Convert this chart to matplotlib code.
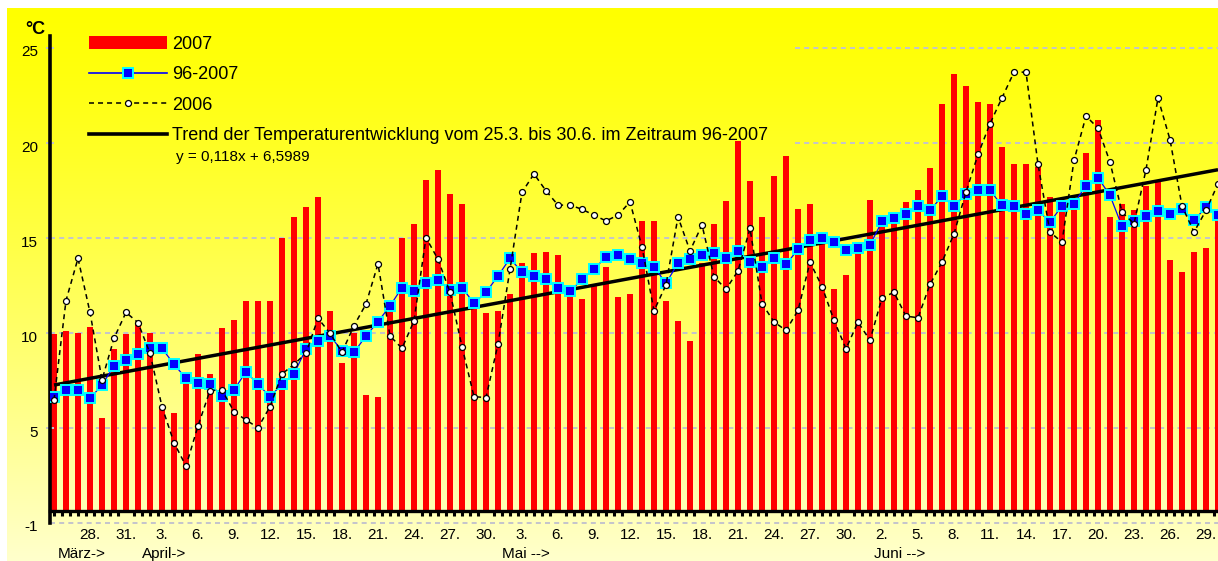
import numpy as np
import matplotlib
matplotlib.use('Agg')
import matplotlib.pyplot as plt
from matplotlib.lines import Line2D
from matplotlib.patches import Patch
from matplotlib.transforms import blended_transform_factory, ScaledTranslation

plt.rcParams['font.family'] = ['Liberation Sans', 'DejaVu Sans']
plt.rcParams['lines.scale_dashes'] = False

# ---------------- data (25.3. - 30.6.) ----------------
bars_2007 = [9.95, 10.14, 10.03, 10.35, 5.53, 9.18, 9.95, 10.49, 10.03, 6.14,
             5.83, 7.4, 8.9, 7.84, 10.26, 10.68, 11.72, 11.72, 11.72, 15.0,
             16.14, 16.66, 17.19, 11.19, 8.46, 10.03, 6.76, 6.67, 11.14, 14.99,
             15.73, 18.06, 18.59, 17.31, 16.78, 11.26, 11.09, 11.19, 12.05, 13.72,
             14.2, 14.3, 14.11, 12.1, 11.79, 12.49, 13.49, 11.92, 12.09, 15.91,
             15.91, 11.7, 10.65, 9.6, 13.7, 15.77, 16.96, 20.12, 18.01, 16.09,
             18.28, 19.3, 16.55, 16.78, 14.9, 12.34, 13.09, 14.8, 16.99, 15.6,
             16.0, 16.88, 17.51, 18.69, 22.03, 23.61, 22.98, 22.16, 22.03, 19.82,
             18.88, 18.88, 18.74, 17.16, 16.6, 16.7, 19.49, 21.19, 16.14, 16.8,
             16.46, 17.77, 17.95, 13.83, 13.22, 14.27, 14.48, 16.0]

mean_96_2007 = [6.67, 7.02, 7.02, 6.58, 7.28, 8.28, 8.6, 8.91, 9.21, 9.21,
                8.37, 7.63, 7.41, 7.32, 6.71, 7.02, 7.98, 7.32, 6.67, 7.32,
                7.87, 9.18, 9.61, 9.86, 9.09, 9.0, 9.86, 10.61, 11.44, 12.4,
                12.24, 12.66, 12.8, 12.28, 12.4, 11.58, 12.16, 13.01, 13.94, 13.21,
                12.99, 12.84, 12.37, 12.2, 12.84, 13.37, 14.02, 14.12, 13.93, 13.67,
                13.49, 12.63, 13.69, 13.93, 14.12, 14.21, 13.95, 14.33, 13.77, 13.49,
                13.96, 13.62, 14.41, 14.92, 15.0, 14.8, 14.36, 14.48, 14.65, 15.88,
                16.04, 16.28, 16.69, 16.46, 17.2, 16.67, 17.34, 17.51, 17.51, 16.72,
                16.69, 16.25, 16.46, 15.85, 16.69, 16.81, 17.77, 18.18, 17.25, 15.62,
                15.88, 16.16, 16.41, 16.28, 16.51, 15.93, 16.64, 16.2]

temp_2006 = [6.5, 11.72, 13.94, 11.1, 7.55, 9.74, 11.1, 10.56, 8.95, 6.14,
             4.25, 3.02, 5.13, 6.99, 7.02, 5.88, 5.44, 5.04, 6.14, 7.86,
             8.37, 8.95, 10.79, 10.0, 9.0, 10.4, 11.54, 13.65, 9.86, 9.21,
             10.65, 15.03, 13.89, 12.16, 9.3, 6.67, 6.62, 9.44, 13.36, 17.41,
             18.38, 17.49, 16.74, 16.74, 16.52, 16.21, 15.91, 16.21, 16.91, 14.54,
             11.18, 12.55, 16.12, 14.33, 15.7, 12.97, 12.32, 13.28, 15.51, 11.56,
             10.6, 10.15, 11.2, 13.74, 12.46, 10.68, 9.19, 10.59, 9.63, 11.87,
             12.15, 10.9, 10.82, 12.57, 13.74, 15.23, 17.42, 19.4, 21.02, 22.38,
             23.73, 23.73, 18.88, 15.32, 14.79, 19.09, 21.42, 20.79, 19.0, 16.37,
             15.76, 18.6, 22.37, 20.18, 16.69, 15.32, 16.46, 17.86]

trend_x = [0, 97]
trend_y = [7.28, 18.6]

tick_idx = list(range(3, 98, 3))
tick_labels = ["28.", "31.", "3.", "6.", "9.", "12.", "15.", "18.", "21.", "24.",
               "27.", "30.", "3.", "6.", "9.", "12.", "15.", "18.", "21.", "24.",
               "27.", "30.", "2.", "5.", "8.", "11.", "14.", "17.", "20.", "23.",
               "26.", "29."]
month_idx = [0, 7, 37, 68]
month_labels = ["März->", "April->", "Mai -->", "Juni -->"]
ytick_vals = [5, 10, 15, 20, 25]
ytick_labels = ["5", "10", "15", "20", "25"]

legend_labels = ["2007", "96-2007", "2006",
                 "Trend der Temperaturentwicklung vom 25.3. bis 30.6. im Zeitraum 96-2007"]
formula_text = "y = 0,118x + 6,5989"

# ---------------- figure ----------------
W, H = 1218, 561
fig = plt.figure(figsize=(W / 100, H / 100), dpi=100)
fig.patch.set_facecolor('white')

# yellow gradient panel
bg = fig.add_axes([7 / W, 0, 1 - 7 / W, 1 - 8 / H], zorder=0)
g = np.linspace(0, 1, 256)
rgb = np.ones((256, 1, 3))
rgb[:, 0, 2] = 0.80 * g ** 1.25
bg.imshow(rgb, aspect='auto', extent=[0, 1, 0, 1], origin='upper', interpolation='bilinear')
bg.axis('off')

ax = fig.add_axes([50 / W, 1 - 511 / H, 1 - 50 / W, (511 - 36) / H], zorder=1)
ax.patch.set_alpha(0)
x = np.arange(len(bars_2007))
ax.set_xlim(-1 / 3, 97.0)
ax.set_ylim(0.657, 25.63)

grid_kw = dict(colors='#C4C4CC', linewidth=1.4, linestyles=[(0, (3.6, 3.0))], zorder=0.5)
ax.hlines([5, 10, 15], -1 / 3, 97, **grid_kw)
ax.hlines([20, 25], 61.75, 97, **grid_kw)
ax.hlines([0], -1 / 3, 97, clip_on=False, **grid_kw)

ax.bar(x, bars_2007, width=0.5, color='#FF0000', linewidth=0, zorder=1)
ax.plot(trend_x, trend_y, color='black', lw=2.5, zorder=2, solid_capstyle='butt')
ax.plot(x, mean_96_2007, color='#0000FF', lw=0.9, marker='s', ms=6.5,
        mfc='#0000FF', mec='#00FFFF', mew=1.4, zorder=3)
ax.plot(x, temp_2006, color='black', lw=1.1, ls=(0, (3.6, 2.9)), marker='o', ms=4.3,
        mfc='white', mec='black', mew=0.9, zorder=4)

for s in ['top', 'right']:
    ax.spines[s].set_visible(False)
ax.spines['left'].set_linewidth(2.6)
ax.spines['left'].set_bounds(0, 25.63)
ax.spines['bottom'].set_linewidth(2.4)

ax.set_yticks(ytick_vals, ytick_labels)
ax.tick_params(axis='y', direction='inout', length=6, width=1.4, color='#C4C4CC',
               pad=5.5, labelsize=11)
off = ScaledTranslation(0, -3 / 100, fig.dpi_scale_trans)
for lab in ax.get_yticklabels():
    lab.set_transform(lab.get_transform() + off)
ax.text(-1 / 3, 0, "-1", ha='right', va='center', fontsize=11, clip_on=False,
        transform=ax.transData + ScaledTranslation(-12 / 100, -4 / 100, fig.dpi_scale_trans))

ax.set_xticks(tick_idx, tick_labels)
ax.set_xticks(np.arange(0, 97.2, 2 / 3), minor=True)
ax.tick_params(axis='x', which='major', length=0, pad=12.5, labelsize=11)
ax.tick_params(axis='x', which='minor', direction='out', length=3.6, width=2.2, color='black')

trans = blended_transform_factory(ax.transData, fig.transFigure)
for mi, ml in zip(month_idx, month_labels):
    ax.text(mi + 0.3, 1 - 554 / H, ml, transform=trans, ha='left', va='center',
            fontsize=11, clip_on=False)

handles = [Patch(facecolor='#FF0000', edgecolor='none'),
           Line2D([], [], color='#0000FF', lw=1.2, marker='s', ms=6.5, mfc='#0000FF',
                  mec='#00FFFF', mew=1.4),
           Line2D([], [], color='black', lw=1.1, ls=(0, (3.6, 2.9)), marker='o', ms=4.3,
                  mfc='white', mec='black', mew=0.9),
           Line2D([], [], color='black', lw=2.6)]
ax.legend(handles, legend_labels, loc='upper left', bbox_to_anchor=(89 / W, 1 - 36 / H),
          bbox_transform=fig.transFigure, frameon=False, fontsize=13, handlelength=4.3,
          handletextpad=0.3, labelspacing=0.74, borderpad=0, borderaxespad=0, numpoints=1)

fig.text(176 / W, 1 - 157 / H, formula_text, fontsize=11, ha='left', va='center')
fig.text(45 / W, 1 - 30 / H, "°C", fontsize=13, fontweight='bold', ha='right', va='center')

fig.savefig('out.png', dpi=100)
